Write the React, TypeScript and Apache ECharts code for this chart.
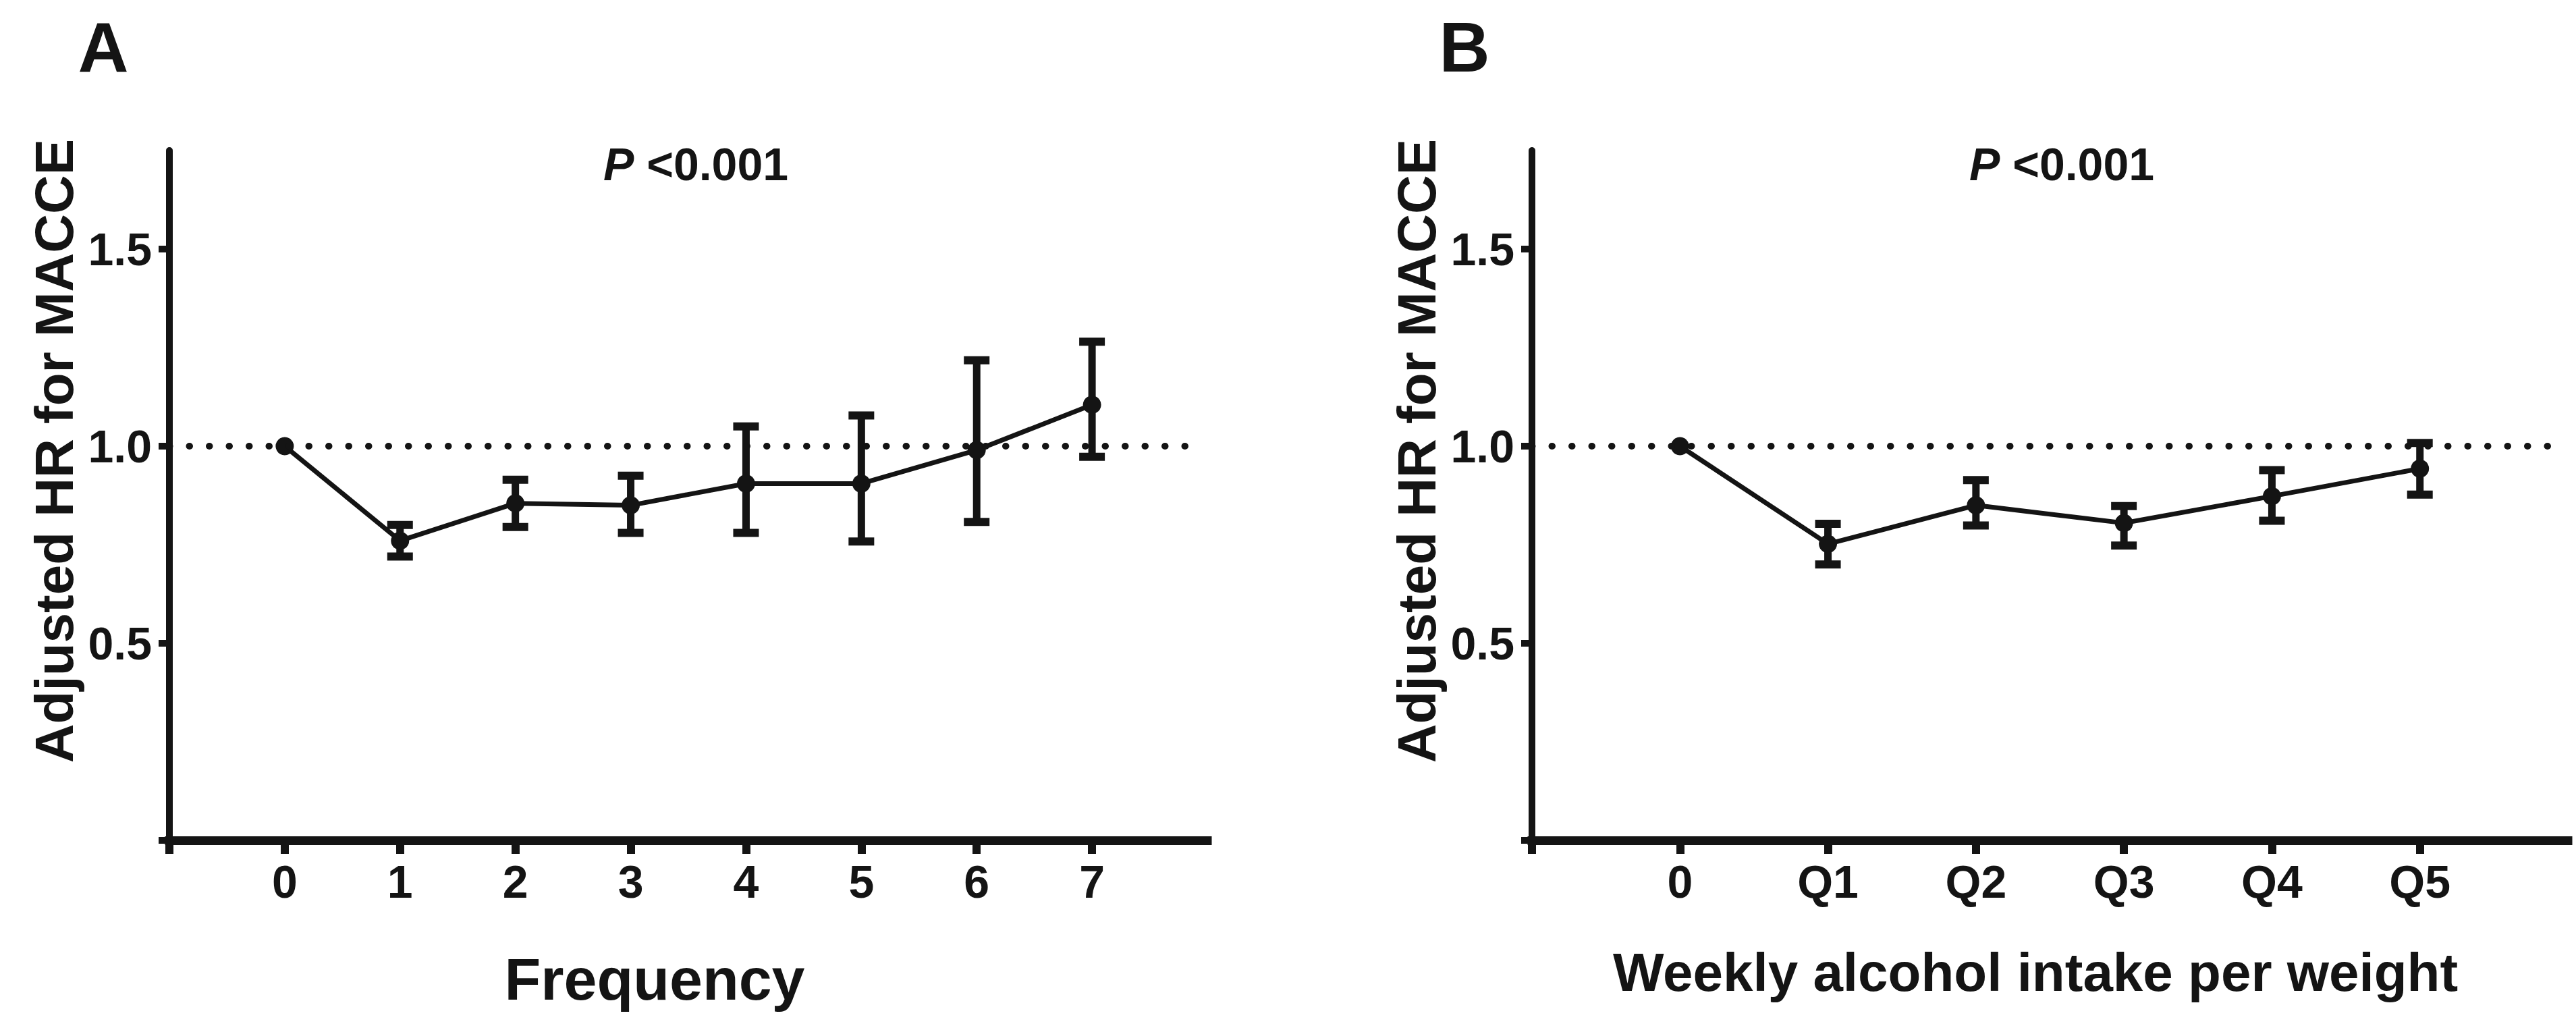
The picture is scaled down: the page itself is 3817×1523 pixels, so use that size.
import React, { useEffect, useRef } from "react";
import * as echarts from "echarts";

// ---------- data ----------
const freqCategories = [0, 1, 2, 3, 4, 5, 6, 7];
const freqHR = [1.0, 0.76, 0.855, 0.85, 0.905, 0.905, 0.99, 1.105];
const freqLower = [null, 0.72, 0.795, 0.78, 0.78, 0.758, 0.808, 0.973];
const freqUpper = [null, 0.8, 0.915, 0.925, 1.05, 1.078, 1.218, 1.265];

const intakeLabels = ["0", "Q1", "Q2", "Q3", "Q4", "Q5"];
const intakeHR = [1.0, 0.752, 0.85, 0.805, 0.873, 0.943];
const intakeLower = [null, 0.7, 0.799, 0.748, 0.811, 0.877];
const intakeUpper = [null, 0.803, 0.914, 0.848, 0.939, 1.008];

const yTicks = [0, 0.5, 1.0, 1.5];
const referenceHR = 1.0;
const yTitle = "Adjusted HR for MACCE";
const xTitleA = "Frequency";
const xTitleB = "Weekly alcohol intake per weight";

// ---------- style ----------
const FONT = '"Liberation Sans", Arial, Helvetica, sans-serif';
const INK = "#141414";

function errorRender(params: any, api: any) {
  const x = api.value(0);
  const lo = api.value(1);
  const hi = api.value(2);
  const pLo = api.coord([x, lo]);
  const pHi = api.coord([x, hi]);
  const hw = 19;
  const st = { stroke: INK, lineWidth: 11 };
  const cap = { stroke: INK, lineWidth: 12 };
  return {
    type: "group",
    children: [
      { type: "line", shape: { x1: pLo[0], y1: pLo[1], x2: pHi[0], y2: pHi[1] }, style: st },
      { type: "line", shape: { x1: pHi[0] - hw, y1: pHi[1], x2: pHi[0] + hw, y2: pHi[1] }, style: cap },
      { type: "line", shape: { x1: pLo[0] - hw, y1: pLo[1], x2: pLo[0] + hw, y2: pLo[1] }, style: cap },
    ],
  };
}

function makeXAxis(gridIndex: number, max: number, tickVals: number[], labelVals: number[], fmt: (v: number) => string) {
  return {
    type: "value",
    gridIndex,
    min: -1,
    max,
    interval: 1,
    splitLine: { show: false },
    axisLine: { show: true, onZero: false, lineStyle: { color: INK, width: 13, cap: "square" } },
    axisTick: { show: true, length: 20, inside: false, lineStyle: { color: INK, width: 12 }, customValues: tickVals },
    axisLabel: {
      show: true,
      customValues: labelVals,
      margin: 27,
      color: INK,
      fontSize: 68,
      fontWeight: "bold",
      fontFamily: FONT,
      formatter: (v: number) => fmt(v),
    },
  };
}

function makeYAxis(gridIndex: number) {
  return {
    type: "value",
    gridIndex,
    min: 0,
    max: 1.75,
    interval: 0.5,
    splitLine: { show: false },
    axisLine: { show: true, onZero: false, lineStyle: { color: INK, width: 10 } },
    axisTick: { show: true, length: 16, lineStyle: { color: INK, width: 10 }, customValues: yTicks },
    axisLabel: {
      show: true,
      customValues: yTicks.filter((v) => v > 0),
      margin: 26,
      color: INK,
      fontSize: 68,
      fontWeight: "bold",
      fontFamily: FONT,
      formatter: (v: number) => (v === 0 ? "" : v.toFixed(1)),
    },
  };
}

function refLine(xEnd: number) {
  return {
    silent: true,
    symbol: "none",
    label: { show: false },
    lineStyle: { color: INK, width: 10, type: [0.5, 29], cap: "round" },
    data: [[{ coord: [-1, referenceHR] }, { coord: [xEnd, referenceHR] }]],
  };
}

function textEl(text: string, x: number, y: number, size: number, weight: string, rotation = 0, rich?: any) {
  return {
    type: "text",
    x,
    y,
    rotation,
    style: {
      text,
      fill: INK,
      fontSize: size,
      fontWeight: weight,
      fontFamily: FONT,
      textAlign: "center",
      textVerticalAlign: "middle",
      align: "center",
      verticalAlign: "middle",
      rich,
    },
  };
}

const pRich = {
  i: { fontStyle: "italic", fontWeight: "bold", fontSize: 68, fontFamily: FONT, fill: INK, color: INK },
  n: { fontWeight: "bold", fontSize: 68, fontFamily: FONT, fill: INK, color: INK },
};

const option = {
  animation: false,
  backgroundColor: "#ffffff",
  grid: [
    { left: 251, top: 223, width: 1538, height: 1022, containLabel: false },
    { left: 2270, top: 223, width: 1535, height: 1022, containLabel: false },
  ],
  xAxis: [
    makeXAxis(0, 8, [-1, ...freqCategories], freqCategories, (v) => (v >= 0 && v <= 7 ? String(v) : "")),
    makeXAxis(1, 6, [-1, 0, 1, 2, 3, 4, 5], [0, 1, 2, 3, 4, 5], (v) =>
      v >= 0 && v < intakeLabels.length ? intakeLabels[v] : ""
    ),
  ],
  yAxis: [makeYAxis(0), makeYAxis(1)],
  series: [
    {
      type: "custom",
      name: "ciA",
      xAxisIndex: 0,
      yAxisIndex: 0,
      z: 2,
      renderItem: errorRender,
      encode: { x: 0, y: [1, 2] },
      data: freqCategories
        .map((c, i) => [c, freqLower[i], freqUpper[i]])
        .filter((d) => d[1] !== null),
    },
    {
      type: "line",
      name: "HR A",
      xAxisIndex: 0,
      yAxisIndex: 0,
      z: 3,
      symbol: "circle",
      symbolSize: 27,
      itemStyle: { color: INK },
      lineStyle: { color: INK, width: 7 },
      data: freqCategories.map((c, i) => [c, freqHR[i]]),
      markLine: refLine(7.83),
    },
    {
      type: "custom",
      name: "ciB",
      xAxisIndex: 1,
      yAxisIndex: 1,
      z: 2,
      renderItem: errorRender,
      encode: { x: 0, y: [1, 2] },
      data: intakeLabels
        .map((_, i) => [i, intakeLower[i], intakeUpper[i]])
        .filter((d) => d[1] !== null),
    },
    {
      type: "line",
      name: "HR B",
      xAxisIndex: 1,
      yAxisIndex: 1,
      z: 3,
      symbol: "circle",
      symbolSize: 27,
      itemStyle: { color: INK },
      lineStyle: { color: INK, width: 7 },
      data: intakeLabels.map((_, i) => [i, intakeHR[i]]),
      markLine: refLine(5.87),
    },
  ],
  graphic: [
    textEl("A", 153, 70, 104, "bold"),
    textEl("B", 2170, 70, 104, "bold"),
    textEl("{i|P} {n|<0.001}", 1031, 243, 68, "bold", 0, pRich),
    textEl("{i|P} {n|<0.001}", 3055, 243, 68, "bold", 0, pRich),
    textEl(yTitle, 80, 668, 80, "bold", Math.PI / 2),
    textEl(yTitle, 2099, 668, 80, "bold", Math.PI / 2),
    textEl(xTitleA, 970, 1450, 88, "bold"),
    textEl(xTitleB, 3016, 1440, 80, "bold"),
  ],
};

export default function App() {
  const ref = useRef<HTMLDivElement>(null);
  useEffect(() => {
    if (!ref.current) return;
    const chart = echarts.init(ref.current, null, { renderer: "svg" });
    chart.setOption(option as any);
    return () => chart.dispose();
  }, []);
  return (
    <div
      ref={ref}
      style={{ position: "absolute", left: 0, top: 0, width: "3817px", height: "1523px", background: "#fff" }}
    />
  );
}
